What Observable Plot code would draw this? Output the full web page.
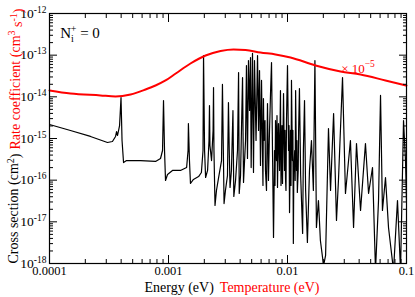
<!DOCTYPE html>
<html><head><meta charset="utf-8">
<script src="https://cdn.jsdelivr.net/npm/d3@7"></script>
<script src="https://cdn.jsdelivr.net/npm/@observablehq/plot@0.6"></script>
<style>
html,body{margin:0;padding:0;background:#fff;}
#chart{width:415px;height:297px;}
svg{display:block;}
svg text{font-family:"Liberation Serif","DejaVu Serif",serif !important;}
</style></head><body><div id="chart"></div>
<script>
// Cross section vs energy (black curve)
const energy = [
1.00e-4,1.50e-4,2.21e-4,3.07e-4,3.38e-4,3.59e-4,3.66e-4,3.73e-4,3.88e-4,3.99e-4,
4.07e-4,4.19e-4,4.44e-4,5.82e-4,7.78e-4,8.57e-4,8.91e-4,9.08e-4,9.26e-4,9.44e-4,
9.81e-4,1.08e-3,1.26e-3,1.42e-3,1.46e-3,1.47e-3,1.50e-3,1.53e-3,1.62e-3,1.79e-3,
1.89e-3,1.95e-3,1.97e-3,2.01e-3,2.05e-3,2.13e-3,2.19e-3,2.21e-3,2.23e-3,2.30e-3,
2.37e-3,2.39e-3,2.41e-3,2.46e-3,2.53e-3,2.63e-3,2.79e-3,2.84e-3,2.89e-3,2.93e-3,
3.01e-3,3.13e-3,3.19e-3,3.24e-3,3.29e-3,3.38e-3,3.48e-3,3.54e-3,3.66e-3,3.80e-3,
3.88e-3,3.93e-3,4.03e-3,4.19e-3,4.27e-3,4.44e-3,4.52e-3,4.61e-3,4.70e-3,4.80e-3,
4.89e-3,4.95e-3,5.08e-3,5.18e-3,5.28e-3,5.44e-3,5.60e-3,5.71e-3,5.82e-3,5.93e-3,
6.05e-3,6.16e-3,6.28e-3,6.53e-3,6.79e-3,6.92e-3,7.20e-3,7.34e-3,7.48e-3,7.63e-3,
7.78e-3,7.93e-3,8.08e-3,8.24e-3,8.40e-3,8.57e-3,8.73e-3,8.91e-3,9.08e-3,9.26e-3,
9.44e-3,9.62e-3,9.81e-3,1.00e-2,1.02e-2,1.04e-2,1.06e-2,1.08e-2,1.10e-2,1.12e-2,
1.15e-2,1.17e-2,1.19e-2,1.21e-2,1.24e-2,1.26e-2,1.29e-2,1.34e-2,1.36e-2,1.39e-2,
1.42e-2,1.47e-2,1.53e-2,1.59e-2,1.65e-2,1.70e-2,1.75e-2,1.82e-2,1.89e-2,2.01e-2,
2.09e-2,2.17e-2,2.21e-2,2.30e-2,2.44e-2,2.58e-2,2.68e-2,2.90e-2,3.07e-2,3.38e-2,
3.59e-2,3.80e-2,4.11e-2,4.52e-2,4.80e-2,5.18e-2,5.49e-2,5.82e-2,6.05e-2,6.28e-2,
6.66e-2,7.06e-2,7.78e-2,8.40e-2,8.91e-2,9.44e-2,9.81e-2,1.00e-1];
const crossSection = [
2.17e-15,1.56e-15,1.12e-15,8.02e-16,8.47e-16,1.12e-15,1.47e-15,1.18e-15,2.05e-15,9.64e-15,
8.95e-16,2.65e-16,2.96e-16,2.96e-16,2.81e-16,3.31e-16,5.15e-16,8.17e-15,5.15e-16,9.82e-17,
1.37e-16,1.71e-16,1.71e-16,2.01e-16,5.15e-16,2.29e-15,2.96e-16,8.32e-17,1.04e-16,1.22e-16,
1.53e-16,5.15e-16,9.82e-14,5.15e-16,1.16e-16,1.71e-16,8.95e-16,6.19e-15,6.79e-16,2.96e-16,
1.56e-15,1.67e-14,5.15e-16,2.47e-17,5.65e-17,1.10e-16,2.96e-16,1.98e-14,5.15e-16,2.75e-17,
5.65e-17,1.29e-16,7.31e-15,5.15e-16,6.67e-17,1.71e-16,4.70e-15,4.06e-17,9.82e-17,5.15e-16,
3.84e-14,4.79e-17,1.29e-16,2.91e-14,8.79e-17,8.95e-16,5.65e-14,3.31e-16,7.45e-14,4.70e-15,
8.79e-14,2.01e-16,1.10e-13,1.53e-16,7.45e-14,8.95e-16,9.82e-14,1.56e-15,4.29e-14,2.25e-16,
2.47e-14,5.15e-16,9.12e-15,1.71e-16,6.92e-15,9.82e-17,1.20e-14,6.67e-14,5.15e-16,4.21e-18,
5.15e-16,2.70e-15,2.96e-16,6.67e-17,2.29e-15,1.71e-16,1.42e-14,2.96e-16,8.32e-17,1.20e-14,
1.71e-16,1.10e-16,2.70e-15,5.65e-14,5.15e-16,1.67e-17,1.56e-15,2.47e-14,2.96e-16,3.02e-18,
5.15e-16,1.42e-14,1.71e-16,5.06e-17,1.56e-15,1.58e-14,1.29e-16,5.25e-18,5.15e-16,8.17e-15,
5.65e-17,3.19e-18,1.71e-16,8.95e-16,5.65e-17,7.45e-14,7.31e-18,3.25e-17,3.56e-18,8.95e-19,
1.56e-18,1.71e-16,1.74e-15,5.65e-17,3.98e-15,1.08e-17,9.82e-17,2.91e-14,4.79e-17,8.95e-16,
7.31e-18,7.59e-16,1.87e-17,7.59e-16,4.79e-17,2.01e-16,6.79e-19,3.25e-17,1.08e-14,1.87e-17,
1.16e-16,7.31e-18,6.79e-19,3.25e-17,6.79e-19,2.70e-15,2.96e-16,3.25e-17];
// extra samples read in the densely oscillating band (0.006 - 0.012 eV)
const energyDense = [6.22e-3,6.34e-3,6.47e-3,6.66e-3,7.06e-3,7.85e-3,8.01e-3,8.16e-3,8.32e-3,8.65e-3,
  8.82e-3,8.99e-3,9.53e-3,9.71e-3,1.03e-2,1.05e-2,1.07e-2,1.11e-2,1.13e-2,1.16e-2,1.18e-2,1.20e-2,1.23e-2];
const crossSectionDense = [7.45e-17,8.95e-16,2.70e-15,5.65e-17,1.56e-15,7.45e-17,8.95e-16,3.56e-15,5.15e-16,1.56e-15,
  7.45e-17,2.05e-15,1.56e-15,5.65e-17,2.05e-15,1.29e-16,7.45e-17,1.56e-15,1.71e-16,9.82e-17,1.56e-15,8.95e-16,1.71e-16];

// Rate coefficient vs temperature (red curve, x 10^-5)
const temperature = [1.00e-4,1.50e-4,2.68e-4,3.59e-4,4.80e-4,6.41e-4,7.78e-4,9.44e-4,1.15e-3,1.53e-3,2.05e-3,
  2.74e-3,3.52e-3,4.44e-3,5.93e-3,7.93e-3,1.06e-2,1.72e-2,2.79e-2,4.11e-2,6.66e-2,1.00e-1];
const rateCoefficient = [1.42e-14,1.20e-14,1.08e-14,1.02e-14,1.14e-14,1.50e-14,1.87e-14,2.47e-14,3.63e-14,6.31e-14,9.82e-14,
  1.26e-13,1.37e-13,1.33e-13,1.16e-13,1.04e-13,8.79e-14,5.65e-14,4.06e-14,3.44e-14,2.47e-14,1.87e-14];

// Ticks
const xMajorTicks = [1e-4, 1e-3, 1e-2, 1e-1];
const xTickLabels = ["0.0001", "0.001", "0.01", "0.1"];
const yMajorTicks = [1e-18, 1e-17, 1e-16, 1e-15, 1e-14, 1e-13, 1e-12];
const yTickExponents = ["-18", "-17", "-16", "-15", "-14", "-13", "-12"];
const minorMultipliers = [2, 3, 4, 5, 6, 7, 8, 9];
const xMinorTicks = xMajorTicks.slice(0, -1).flatMap(t => minorMultipliers.map(m => m * t));
const yMinorTicks = yMajorTicks.slice(0, -1).flatMap(t => minorMultipliers.map(m => m * t));

const FONT = "Liberation Serif, DejaVu Serif, serif";
const RED = "#ff0000";

const cs = energy.map((e, i) => ({e, s: crossSection[i]}))
  .concat(energyDense.map((e, i) => ({e, s: crossSectionDense[i]})))
  .sort((a, b) => a.e - b.e);
const rc = temperature.map((t, i) => ({t, r: rateCoefficient[i]}));

const svg = Plot.plot({
  width: 415, height: 297,
  marginLeft: 49, marginRight: 9, marginTop: 13, marginBottom: 34,
  style: {fontFamily: FONT, fontSize: "12.5px", background: "#fff", color: "#000"},
  x: {type: "log", domain: [1e-4, 0.1], label: null},
  y: {type: "log", domain: [1e-18, 1e-12], label: null},
  marks: [
    Plot.line(cs, {x: "e", y: "s", stroke: "#000", strokeWidth: 1.2, clip: true}),
    Plot.line(rc, {x: "t", y: "r", stroke: RED, strokeWidth: 2, curve: "monotone-x"}),
    Plot.frame({stroke: "#000", strokeWidth: 1.2}),
    Plot.axisX(xMajorTicks, {anchor: "bottom", tickSize: -8, tickPadding: 11, label: null,
      tickFormat: d => xTickLabels[xMajorTicks.indexOf(d)]}),
    Plot.axisX(xMinorTicks, {anchor: "bottom", tickSize: -4, fill: "none", label: null}),
    Plot.axisX(xMajorTicks, {anchor: "top", tickSize: -8, fill: "none", label: null}),
    Plot.axisX(xMinorTicks, {anchor: "top", tickSize: -4, fill: "none", label: null}),
    Plot.axisY(yMajorTicks, {anchor: "left", tickSize: -8, tickPadding: 11, label: null, fontSize: 13.5,
      tickFormat: d => yTickExponents[yMajorTicks.indexOf(d)]}),
    Plot.axisY(yMinorTicks, {anchor: "left", tickSize: -4, fill: "none", label: null}),
    Plot.axisY(yMajorTicks, {anchor: "right", tickSize: -8, fill: "none", label: null}),
    Plot.axisY(yMinorTicks, {anchor: "right", tickSize: -4, fill: "none", label: null})
  ]
});

const root = d3.select(svg);
// superscripted y tick labels
root.selectAll('g[aria-label="y-axis tick label"] text').each(function () {
  const t = d3.select(this);
  const exp = t.text();
  t.text("");
  t.append("tspan").text("10");
  t.append("tspan").attr("dy", "-0.55em").attr("font-size", "9.5px").text(exp);
});

// y axis title (two colours)
const yt = root.append("text")
  .attr("transform", "translate(18,136) rotate(-90)")
  .attr("text-anchor", "middle")
  .attr("font-family", FONT).attr("font-size", "14px").attr("fill", "#000");
yt.append("tspan").text("Cross section (cm");
yt.append("tspan").attr("dy", "-0.45em").attr("font-size", "10px").text("2");
yt.append("tspan").attr("dy", "0.45em").text(")");
const ytr = yt.append("tspan").attr("fill", RED).attr("dx", "4");
ytr.append("tspan").text("Rate coefficient (cm");
ytr.append("tspan").attr("dy", "-0.45em").attr("font-size", "10px").text("3");
ytr.append("tspan").attr("dy", "0.45em").text(" s");
ytr.append("tspan").attr("dy", "-0.45em").attr("font-size", "10px").text("-1");
ytr.append("tspan").attr("dy", "0.45em").text(")");

// x axis title (two colours)
const xt = root.append("text")
  .attr("x", 232).attr("y", 292)
  .attr("text-anchor", "middle")
  .attr("font-family", FONT).attr("font-size", "14px").attr("fill", "#000");
xt.append("tspan").text("Energy (eV)");
xt.append("tspan").attr("dx", "6").attr("fill", RED).text("Temperature (eV)");

// N_i^+ = 0 annotation
const na = root.append("text")
  .attr("x", 80).attr("y", 38)
  .attr("font-family", FONT).attr("font-size", "15px").attr("fill", "#000");
na.append("tspan").text("N");
na.append("tspan").attr("font-size", "10px").attr("dy", "4").text("i");
na.append("tspan").attr("font-size", "10px").attr("dx", "-3").attr("dy", "-10").text("+");
na.append("tspan").attr("dy", "6").text(" = 0");

// x 10^-5 annotation
const sc = root.append("text")
  .attr("x", 358).attr("y", 73)
  .attr("font-family", FONT).attr("font-size", "13px").attr("fill", RED);
sc.append("tspan").text("\u00d7 10");
sc.append("tspan").attr("font-size", "9.5px").attr("dy", "-0.6em").text("\u22125");

document.getElementById("chart").appendChild(svg);
</script>
</body></html>
